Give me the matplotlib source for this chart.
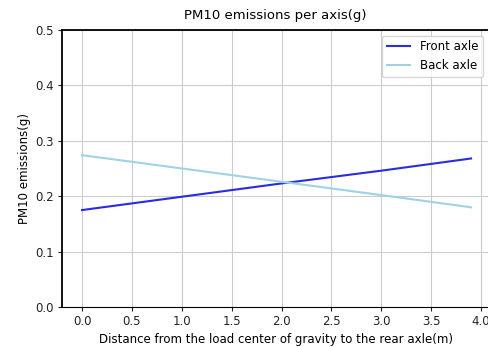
import matplotlib
matplotlib.use('Agg')
import matplotlib.pyplot as plt

# distance from load centre of gravity to rear axle (m)
distance = [0.0, 1.0, 2.0, 3.0, 3.9]
front_axle = [0.175, 0.199, 0.223, 0.246, 0.268]
back_axle = [0.274, 0.250, 0.226, 0.202, 0.180]

x_ticks = [0.0, 0.5, 1.0, 1.5, 2.0, 2.5, 3.0, 3.5, 4.0]
y_ticks = [0.0, 0.1, 0.2, 0.3, 0.4, 0.5]

fig = plt.figure(figsize=(4.89, 3.47), dpi=100)
ax = fig.add_axes([0.127, 0.115, 0.873, 0.799])

ax.plot(distance, front_axle, color='#2b2be0', lw=1.5, label='Front axle')
ax.plot(distance, back_axle, color='#9fd3e3', lw=1.5, label='Back axle')

ax.set_xlim(-0.2, 4.08)
ax.set_ylim(0, 0.5)
ax.set_xticks(x_ticks)
ax.set_yticks(y_ticks)
ax.tick_params(labelsize=8.5, colors='#222222', length=3, pad=3)
ax.grid(True, color='#cccccc', lw=0.8)
for s in ['left', 'top']:
    ax.spines[s].set_linewidth(1.3)

ax.set_title('PM10 emissions per axis(g)', fontsize=9.5, pad=8)
ax.set_xlabel('Distance from the load center of gravity to the rear axle(m)', fontsize=8.5, labelpad=3)
ax.set_ylabel('PM10 emissions(g)', fontsize=8.5, labelpad=3)
ax.legend(loc='upper right', fontsize=8.5)

fig.savefig('out.png', dpi=100)
